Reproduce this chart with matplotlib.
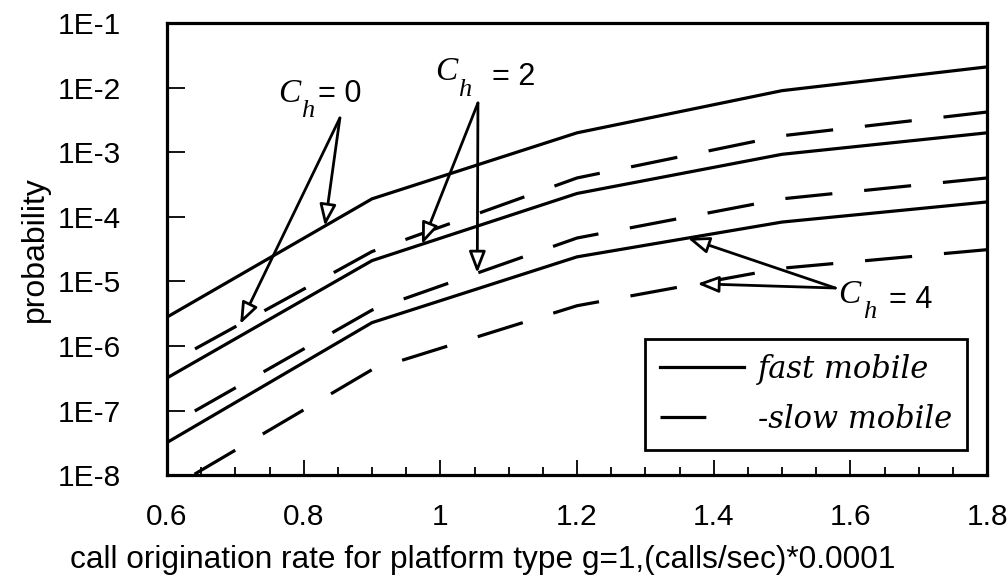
"""Blocking probability vs call origination rate, fast and slow mobiles."""
import numpy as np
import matplotlib
matplotlib.use("Agg")
import matplotlib.pyplot as plt
from matplotlib.lines import Line2D
from matplotlib.ticker import FixedLocator, LogLocator, FuncFormatter, NullFormatter

# call origination rate (calls/sec * 1e-4)
rate = [0.6, 0.9, 1.2, 1.5, 1.8]

# fast mobiles, one curve per C_h
fast_ch0 = [2.8e-6, 1.9e-4, 2.0e-3, 9.0e-3, 2.1e-2]
fast_ch2 = [3.2e-7, 2.1e-5, 2.3e-4, 9.3e-4, 2.0e-3]
fast_ch4 = [3.2e-8, 2.3e-6, 2.4e-5, 8.3e-5, 1.7e-4]

# slow mobiles
slow_ch0 = [5.2e-7, 2.9e-5, 4.0e-4, 1.8e-3, 4.2e-3]
slow_ch2 = [5.6e-8, 3.6e-6, 4.7e-5, 1.9e-4, 4.0e-4]
slow_ch4 = [5.8e-9, 4.3e-7, 4.2e-6, 1.6e-5, 3.1e-5]

x_ticks = [0.6, 0.8, 1.0, 1.2, 1.4, 1.6, 1.8]
y_decades = [1e-8, 1e-7, 1e-6, 1e-5, 1e-4, 1e-3, 1e-2, 1e-1]

plt.rcParams["font.family"] = ["Liberation Sans", "DejaVu Sans"]
plt.rcParams["lines.scale_dashes"] = False

LW = 2.3
DASH = (34, (34, 23))  # start on the gap, like the original


def on_curve(xs, ys, x):
    # point on a log-linear segment, used as arrow target
    return x, 10 ** np.interp(x, xs, np.log10(ys))


def ch_label(ax, xy, value, h_off, eq_off):
    ax.annotate("C", xy=xy, xycoords="data", fontsize=24, va="baseline",
                family="Liberation Serif", style="italic")
    ax.annotate("h", xy=xy, xycoords="data", xytext=h_off, textcoords="offset points",
                fontsize=19, va="baseline", family="Liberation Serif", style="italic")
    ax.annotate(f"= {value}", xy=xy, xycoords="data", xytext=eq_off,
                textcoords="offset points", fontsize=22, va="baseline")


def arrow(ax, tail, tip):
    ax.annotate("", xy=tip, xytext=tail,
                arrowprops=dict(arrowstyle="-|>,head_length=1.3,head_width=0.5",
                                fc="white", ec="black", lw=2.0, shrinkA=0, shrinkB=0))


fig = plt.figure(figsize=(10.08, 5.78), dpi=100)
ax = fig.add_axes([0.1657, 0.178, 0.8135, 0.782])

for ys in (fast_ch0, fast_ch2, fast_ch4):
    ax.plot(rate, ys, color="black", lw=LW, solid_joinstyle="round")
for ys in (slow_ch0, slow_ch2, slow_ch4):
    ax.plot(rate, ys, color="black", lw=LW, linestyle=DASH, dash_capstyle="butt")

ax.set_yscale("log")
ax.set_xlim(0.6, 1.8)
ax.set_ylim(1e-8, 1e-1)

ax.xaxis.set_major_locator(FixedLocator(x_ticks))
ax.xaxis.set_minor_locator(FixedLocator(np.arange(0.65, 1.8, 0.05)))
ax.xaxis.set_major_formatter(FuncFormatter(lambda v, p: f"{v:g}"))
ax.yaxis.set_major_locator(FixedLocator(y_decades))
ax.yaxis.set_minor_locator(LogLocator(base=10, subs=np.arange(2, 10)))
ax.yaxis.set_major_formatter(FuncFormatter(lambda v, p: f"1E{int(round(np.log10(v)))}"))
ax.yaxis.set_minor_formatter(NullFormatter())

ax.tick_params(which="both", direction="in", width=1.3, labelsize=21.5)
ax.tick_params(axis="x", which="major", length=11, pad=20)
ax.tick_params(axis="x", which="minor", length=6)
ax.tick_params(axis="y", which="major", length=13, pad=33)
ax.tick_params(axis="y", which="minor", length=7)
for sp in ax.spines.values():
    sp.set_linewidth(2.3)

ax.set_ylabel("probability", fontsize=23, labelpad=6)
ax.set_xlabel("call origination rate for platform type g=1,(calls/sec)*0.0001",
              fontsize=22.8, labelpad=10, x=0.385)

# C_h annotations
ch_label(ax, (0.762, 6.0e-3), 0, (17, -11), (29, 0))
arrow(ax, (0.853, 3.4e-3), on_curve(rate, fast_ch0, 0.831))
arrow(ax, (0.853, 3.4e-3), on_curve(rate, slow_ch0, 0.707))

ch_label(ax, (0.992, 1.3e-2), 2, (16.5, -11), (41, -3.6))
arrow(ax, (1.055, 5.8e-3), on_curve(rate, fast_ch2, 0.973))
arrow(ax, (1.055, 5.8e-3), on_curve(rate, slow_ch2, 1.054))

ch_label(ax, (1.582, 4.7e-6), 4, (18, -11), (37, -3.6))
arrow(ax, (1.578, 7.9e-6), on_curve(rate, fast_ch4, 1.362))
arrow(ax, (1.578, 7.9e-6), on_curve(rate, slow_ch4, 1.376))

handles = [
    Line2D([], [], color="black", lw=LW),
    Line2D([], [], color="black", lw=LW, linestyle=(0, (33, 200))),
]
leg = ax.legend(handles, ["fast mobile", "-slow mobile"], loc="lower right",
                bbox_to_anchor=(0.9756, 0.0553), borderaxespad=0, fancybox=False,
                framealpha=1, edgecolor="black", handlelength=2.75, handletextpad=0.45,
                borderpad=0.5, labelspacing=0.62,
                prop=dict(family="DejaVu Serif", style="italic", size=22))
leg.get_frame().set_linewidth(2.0)

fig.savefig("out.png", dpi=100)
